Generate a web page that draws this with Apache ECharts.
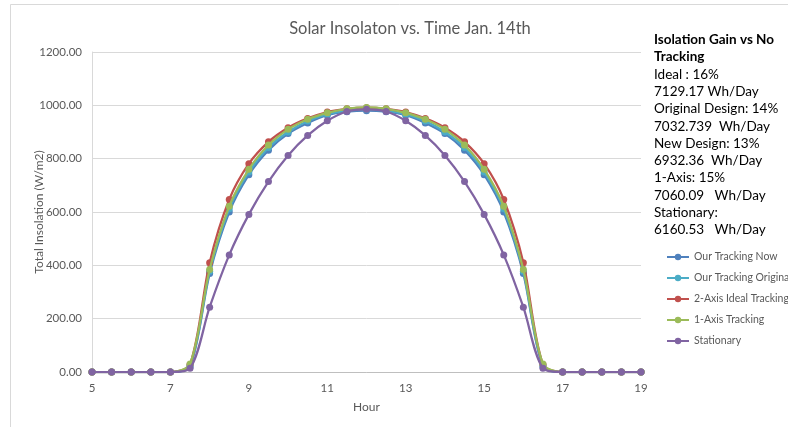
<!DOCTYPE html>
<html lang="en">
<head>
    <meta charset="UTF-8">
    <title>Solar Insolaton vs. Time Jan. 14th</title>
    <script src="https://cdn.jsdelivr.net/npm/echarts@6/dist/echarts.min.js"></script>
    <style>
        html, body { margin: 0; padding: 0; background: #fff; }
        #main { width: 788px; height: 427px; }
    </style>
</head>
<body>
<div id="main"></div>
<script>
    // hours of the day, every half hour
    var hours = [5, 5.5, 6, 6.5, 7, 7.5, 8, 8.5, 9, 9.5, 10, 10.5, 11, 11.5, 12,
                 12.5, 13, 13.5, 14, 14.5, 15, 15.5, 16, 16.5, 17, 17.5, 18, 18.5, 19];

    var trackingNow = [0, 0, 0, 0, 0, 20, 369, 600, 740, 832, 894, 934, 963, 976, 980,
                       976, 963, 934, 894, 832, 740, 600, 369, 20, 0, 0, 0, 0, 0];
    var trackingOriginal = [0, 0, 0, 0, 0, 24, 378, 612, 750, 842, 900, 941, 967, 980, 984,
                            980, 967, 941, 900, 842, 750, 612, 378, 24, 0, 0, 0, 0, 0];
    var idealTracking = [0, 0, 0, 0, 0, 28, 410, 647, 781, 863, 916, 951, 975, 987, 991,
                         987, 975, 951, 916, 863, 781, 647, 410, 28, 0, 0, 0, 0, 0];
    var oneAxis = [0, 0, 0, 0, 0, 30, 384, 622, 760, 851, 910, 948, 972, 987, 992,
                   987, 972, 948, 910, 851, 760, 622, 384, 30, 0, 0, 0, 0, 0];
    var stationary = [0, 0, 0, 0, 0, 14, 243, 439, 591, 714, 812, 887, 942, 977, 985,
                      977, 942, 887, 812, 714, 591, 439, 243, 14, 0, 0, 0, 0, 0];

    var seriesNames = ['Our Tracking Now', 'Our Tracking Original', '2-Axis Ideal Tracking', '1-Axis Tracking', 'Stationary'];
    var seriesData = [trackingNow, trackingOriginal, idealTracking, oneAxis, stationary];
    var colors = ['#4F81BD', '#4BACC6', '#C0504D', '#9BBB59', '#8064A2'];

    var noteLines = [
        'Ideal : 16%',
        '7129.17 Wh/Day',
        'Original Design: 14%',
        '7032.739  Wh/Day',
        'New Design: 13%',
        '6932.36  Wh/Day',
        '1-Axis: 15%',
        '7060.09   Wh/Day',
        'Stationary:',
        '6160.53   Wh/Day'
    ];

    function pairs(ys) {
        var out = [];
        for (var i = 0; i < hours.length; i++) out.push([hours[i], ys[i]]);
        return out;
    }

    var font = 'Lato, "Open Sans", sans-serif';
    var myChart = echarts.init(document.getElementById('main'));

    var series = [];
    for (var i = 0; i < seriesNames.length; i++) {
        series.push({
            name: seriesNames[i],
            type: 'line',
            data: pairs(seriesData[i]),
            smooth: 0.3,
            symbol: 'circle',
            symbolSize: 7,
            color: colors[i],
            lineStyle: { width: 2.25 },
            z: 2 + i
        });
    }

    var option = {
        animation: false,
        backgroundColor: '#fff',
        textStyle: { fontFamily: font },
        title: {
            text: 'Solar Insolaton vs. Time Jan. 14th',
            left: 405,
            textAlign: 'center',
            top: 15,
            textStyle: { fontFamily: font, fontSize: 16.5, fontWeight: 'normal', color: '#595959' }
        },
        grid: { left: 92, right: 147, top: 52, bottom: 55 },
        legend: {
            orient: 'vertical',
            left: 666,
            top: 250,
            padding: 0,
            itemWidth: 22,
            itemHeight: 8,
            itemGap: 7,
            data: seriesNames,
            textStyle: { fontFamily: font, fontSize: 10.5, lineHeight: 14, color: '#595959' }
        },
        xAxis: {
            type: 'value',
            min: 5,
            max: 19,
            interval: 2,
            name: 'Hour',
            nameLocation: 'middle',
            nameGap: 29,
            nameTextStyle: { fontFamily: font, fontSize: 12, color: '#595959' },
            axisLine: { lineStyle: { color: '#bfbfbf', width: 1 } },
            axisTick: { show: false },
            splitLine: { show: false },
            axisLabel: { fontFamily: font, fontSize: 11.5, color: '#595959', margin: 10 }
        },
        yAxis: {
            type: 'value',
            min: 0,
            max: 1200,
            interval: 200,
            name: 'Total Insolation (W/m2)',
            nameLocation: 'middle',
            nameGap: 47,
            nameMoveOverlap: false,
            nameTextStyle: { fontFamily: font, fontSize: 12, color: '#595959' },
            axisLine: { show: true, lineStyle: { color: '#d9d9d9', width: 1 } },
            axisTick: { show: false },
            splitLine: { lineStyle: { color: '#d9d9d9', width: 1 } },
            axisLabel: {
                fontFamily: font, fontSize: 11.5, color: '#595959', margin: 10,
                formatter: function (v) { return v.toFixed(2); }
            }
        },
        graphic: [
            {
                type: 'rect',
                shape: { x: 10.5, y: 4.5, width: 800, height: 440 },
                style: { fill: 'none', stroke: '#d9d9d9', lineWidth: 1 },
                silent: true,
                z: -1
            },
            {
                type: 'text',
                left: 654,
                top: 31,
                style: {
                    text: 'Isolation Gain vs No\nTracking',
                    fontFamily: font,
                    fontSize: 13.5,
                    fontWeight: 'bold',
                    lineHeight: 17.25,
                    fill: '#000'
                }
            },
            {
                type: 'text',
                left: 654,
                top: 66,
                style: {
                    text: noteLines.join('\n'),
                    fontFamily: font,
                    fontSize: 13.5,
                    lineHeight: 17.25,
                    fill: '#000'
                }
            }
        ],
        series: series
    };

    myChart.setOption(option);
</script>
</body>
</html>
